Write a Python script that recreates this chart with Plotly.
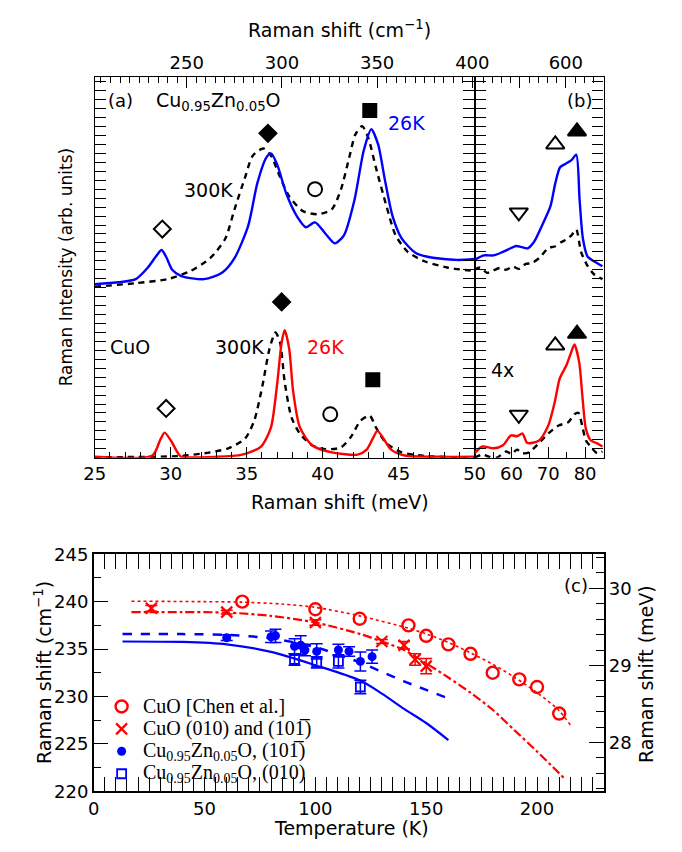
import plotly.graph_objects as go

# ---------------- Panel (a): Raman spectra, 25-50 meV ----------------
zn26_a_x = [25, 26.6, 27.7, 28.5, 29.1, 29.4, 29.7, 30.1, 30.7, 32.2, 33.4, 34.2, 35.1, 35.7, 36.3, 36.6, 37.0,
            37.6, 38.3, 38.9, 39.5, 40.2, 40.8, 41.4, 42.1, 42.7, 43.2, 43.65, 44.1, 44.6, 45.2, 46.1, 46.9, 48.8, 50.0]
zn26_a_y = [3.88, 3.92, 3.99, 4.25, 4.53, 4.64, 4.49, 4.20, 4.06, 3.99, 4.14, 4.46, 5.18, 6.13, 6.71, 6.80, 6.56,
            5.91, 5.40, 5.15, 5.26, 5.00, 4.79, 4.97, 5.77, 6.86, 7.34, 7.00, 6.20, 5.40, 4.90, 4.58, 4.49, 4.42, 4.44]
zn300_a_x = [25, 27.7, 29.8, 31.3, 32.6, 33.6, 34.2, 34.9, 35.4, 36.1, 36.6, 37.2, 37.8, 38.7, 39.7, 40.6, 41.2,
             41.75, 42.15, 42.6, 43.0, 43.5, 44.2, 44.8, 45.6, 46.7, 48.2, 50.0]
zn300_a_y = [3.82, 3.90, 3.99, 4.17, 4.46, 4.90, 5.55, 6.27, 6.75, 6.91, 6.75, 6.27, 5.84, 5.51, 5.44, 5.55, 5.99,
             6.71, 7.22, 7.41, 7.15, 6.49, 5.62, 4.97, 4.60, 4.39, 4.25, 4.17]
cuo26_a_x = [25, 28.8, 29.3, 29.6, 30.0, 30.5, 30.7, 33.0, 34.7, 35.95, 36.6, 37.0, 37.3, 37.5, 37.8, 38.06, 38.5,
             39.3, 40.6, 42.3, 42.9, 43.3, 43.6, 44.0, 44.5, 45.4, 47.7, 50.0]
cuo26_a_y = [0.02, 0.05, 0.39, 0.56, 0.39, 0.09, 0.02, 0.02, 0.07, 0.25, 0.68, 1.63, 2.57, 2.85, 2.43, 1.48, 0.68,
             0.28, 0.12, 0.07, 0.18, 0.43, 0.60, 0.43, 0.18, 0.05, 0.02, 0.02]
cuo300_a_x = [25, 30.7, 32.6, 33.8, 34.9, 35.5, 36.05, 36.5, 36.9, 37.2, 37.5, 37.95, 38.5, 39.3, 40.2, 41.2,
              41.85, 42.5, 43.1, 43.5, 44.2, 45.2, 46.7, 50.0]
cuo300_a_y = [0.01, 0.04, 0.12, 0.21, 0.43, 0.83, 1.63, 2.43, 2.80, 2.57, 1.70, 0.90, 0.54, 0.28, 0.19, 0.23,
              0.46, 0.83, 0.94, 0.68, 0.32, 0.12, 0.04, 0.0]

# ---------------- Panel (b): Raman spectra, 50-85 meV ----------------
zn26_b_x = [50, 52.5, 55.1, 57.7, 61.3, 62.6, 64.4, 66.1, 68.3, 70.6, 71.9, 73.2, 74.5, 76.3, 77.6, 78.5, 79.4,
            80.7, 82.4, 84.7]
zn26_b_y = [4.42, 4.52, 4.52, 4.60, 4.73, 4.71, 4.68, 4.82, 5.19, 5.62, 6.13, 6.49, 6.56, 6.65, 6.77, 5.77, 4.90,
            4.49, 4.39, 4.28]
zn300_b_x = [50, 51.5, 53.4, 55.0, 56.9, 58.5, 60.4, 62.0, 63.9, 65.5, 67.5, 70.1, 71.8, 73.6, 75.0, 76.3, 77.6,
             78.9, 80.7, 82.4, 84.7]
zn300_b_y = [4.20, 4.25, 4.13, 4.18, 4.24, 4.20, 4.27, 4.22, 4.33, 4.35, 4.46, 4.69, 4.72, 4.82, 4.88, 4.97, 5.10,
             4.60, 4.28, 4.10, 3.99]
cuo26_b_x = [50, 52.1, 55.1, 57.7, 59.9, 61.5, 63.0, 64.3, 67.4, 70.0, 71.8, 73.1, 74.9, 76.2, 77.1, 78.4, 79.3,
             80.2, 81.5, 83.3, 84.7]
cuo26_b_y = [0.10, 0.25, 0.21, 0.28, 0.50, 0.48, 0.54, 0.33, 0.38, 0.72, 1.26, 1.77, 2.06, 2.35, 2.53, 2.13, 1.34,
             0.65, 0.39, 0.32, 0.25]
cuo300_b_x = [50, 52.1, 54.0, 56.0, 58.6, 60.0, 61.5, 63.0, 64.8, 67.4, 70.0, 72.8, 75.4, 77.1, 78.2, 79.3, 80.2,
              81.5, 83.3, 84.7]
cuo300_b_y = [0.00, 0.07, 0.02, 0.00, 0.14, 0.08, 0.18, 0.10, 0.12, 0.32, 0.54, 0.72, 0.79, 0.97, 1.00, 0.68, 0.39,
              0.25, 0.10, 0.14]

# ---------------- Panel (c): Raman shift vs temperature ----------------
chen_T = [67, 100, 120, 142, 150, 160, 170, 180, 192, 200, 210]
chen_v = [240.0, 239.2, 238.2, 237.5, 236.4, 235.5, 234.5, 232.5, 231.8, 231.0, 228.2]
cuo_T = [26, 60, 100, 130, 140, 145, 150]
cuo_v = [239.3, 238.9, 237.8, 235.8, 235.4, 233.9, 233.2]
cuo_err = [0.3, 0.2, 0.3, 0.2, 0.4, 0.6, 0.8]
zn101_T = [60, 80, 82, 90.6, 93.4, 95.3, 100.6, 110.4, 115.2, 120.3, 125.6]
zn101_v = [236.2, 236.3, 236.4, 235.3, 235.4, 234.9, 234.75, 234.9, 234.75, 233.7, 234.2]
zn101_err = [0.3, 0.6, 0.7, 0.8, 1.0, 0.6, 0.8, 0.6, 0.5, 1.0, 0.7]
zn010_T = [90.6, 100.6, 110.4, 120.3]
zn010_v = [233.9, 233.6, 233.7, 231.0]
zn010_err = [0.6, 0.6, 0.7, 0.7]

fit_chen_T = [17, 50, 67, 85, 100, 120, 142, 150, 160, 170, 180, 190, 200, 210, 215]
fit_chen_v = [240.05, 240.0, 239.95, 239.75, 239.4, 238.5, 237.2, 236.6, 235.7, 234.6, 233.4, 232.0, 230.4, 228.5, 227.0]
fit_cuo_T = [17, 40, 60, 80, 100, 120, 130, 140, 150, 160, 170, 180, 190, 200, 213]
fit_cuo_v = [238.9, 238.9, 238.85, 238.5, 237.8, 236.6, 235.8, 234.9, 233.5, 232.0, 230.4, 228.6, 226.4, 224.2, 221.2]
fit_zn101_T = [13, 40, 60, 81, 100, 120, 130, 140, 150, 160]
fit_zn101_v = [236.6, 236.58, 236.5, 236.1, 235.2, 233.6, 232.6, 231.6, 230.7, 229.8]
fit_zn010_T = [13, 40, 60, 80, 100, 120, 130, 140, 150, 160]
fit_zn010_v = [235.8, 235.75, 235.5, 234.7, 233.3, 231.7, 230.3, 228.7, 227.2, 225.4]

legend_names = ["CuO [Chen et al.]",
                "CuO (010) and (101\u0305)",
                "Cu<sub>0.95</sub>Zn<sub>0.05</sub>O, (101\u0305)",
                "Cu<sub>0.95</sub>Zn<sub>0.05</sub>O, (010)"]

W, H = 682, 852
def PX(p): return p / W
def PY(p): return 1 - p / H

FONT = "DejaVu Sans, Arial, Helvetica, sans-serif"
SERIF = "Liberation Serif, Times New Roman, serif"
BLUE = "#0000FF"
RED = "#FF0000"
BLACK = "#000000"

fig = go.Figure()

def spec(x, y, color, dash, xa, ya):
    fig.add_trace(go.Scatter(
        x=x, y=y, mode="lines", xaxis=xa, yaxis=ya, showlegend=False, hoverinfo="skip",
        line=dict(color=color, width=2.4, dash=dash, shape="spline", smoothing=0.7)))

DASH = "6px,5px"
spec(zn300_a_x, zn300_a_y, BLACK, DASH, "x", "y")
spec(zn26_a_x, zn26_a_y, BLUE, "solid", "x", "y")
spec(cuo300_a_x, cuo300_a_y, BLACK, DASH, "x", "y")
spec(cuo26_a_x, cuo26_a_y, RED, "solid", "x", "y")
spec(zn300_b_x, zn300_b_y, BLACK, DASH, "x3", "y2")
spec(zn26_b_x, zn26_b_y, BLUE, "solid", "x3", "y2")
spec(cuo300_b_x, cuo300_b_y, BLACK, DASH, "x3", "y2")
spec(cuo26_b_x, cuo26_b_y, RED, "solid", "x3", "y2")

# dummy traces so the top (cm^-1) axes are drawn
for xa_, ya_, xv, yv in [("x2", "y", 300, 0), ("x4", "y2", 600, 0)]:
    fig.add_trace(go.Scatter(x=[xv], y=[yv], xaxis=xa_, yaxis=ya_, mode="markers",
                             marker=dict(opacity=0), showlegend=False, hoverinfo="skip"))

# phonon symbols (a)
sym_a_x = [29.45, 36.4, 39.5, 43.1, 29.7, 37.3, 40.5, 43.3]
sym_a_y = [5.11, 7.25, 6.0, 7.76, 1.10, 3.48, 0.97, 1.74]
sym_a_s = ["diamond-open", "diamond", "circle-open", "square",
           "diamond-open", "diamond", "circle-open", "square"]
sym_a_sz = [13, 13, 14, 13, 13, 13, 14, 13]
fig.add_trace(go.Scatter(x=sym_a_x, y=sym_a_y, xaxis="x", yaxis="y", mode="markers", showlegend=False,
                         hoverinfo="skip",
                         marker=dict(symbol=sym_a_s, size=sym_a_sz, color=BLACK, opacity=1,
                                     line=dict(color=BLACK, width=2))))
# phonon symbols (b)
sym_b_x = [62.0, 71.9, 77.8, 62.0, 71.9, 77.8]
sym_b_y = [5.48, 7.0, 7.29, 0.96, 2.51, 2.77]
sym_b_s = ["triangle-down-open", "triangle-up-open", "triangle-up",
           "triangle-down-open", "triangle-up-open", "triangle-up"]
fig.add_trace(go.Scatter(x=sym_b_x, y=sym_b_y, xaxis="x3", yaxis="y2", mode="markers", showlegend=False,
                         hoverinfo="skip",
                         marker=dict(symbol=sym_b_s, size=16, color=BLACK, opacity=1,
                                     line=dict(color=BLACK, width=2))))

# ---------------- panel (c) traces ----------------
def fit(T, v, color, dash, width):
    fig.add_trace(go.Scatter(x=T, y=v, mode="lines", xaxis="x5", yaxis="y3", showlegend=False, hoverinfo="skip",
                             line=dict(color=color, width=width, dash=dash, shape="spline", smoothing=0.8)))

fit(fit_chen_T, fit_chen_v, RED, "dot", 1.6)
fit(fit_cuo_T, fit_cuo_v, RED, "dashdot", 2.2)
fit(fit_zn101_T, fit_zn101_v, BLUE, "dash", 2.5)
fit(fit_zn010_T, fit_zn010_v, BLUE, "solid", 2.2)

MK_CHEN = dict(symbol="circle-open", size=12, color=RED, line=dict(width=2.4, color=RED))
MK_CUO = dict(symbol="x-thin", size=11, color=RED, line=dict(width=2.2, color=RED))
MK_ZN101 = dict(symbol="circle", size=9, color=BLUE)
MK_ZN010 = dict(symbol="square-open", size=9, color=BLUE, line=dict(width=1.8, color=BLUE))

fig.add_trace(go.Scatter(x=chen_T, y=chen_v, mode="markers", xaxis="x5", yaxis="y3", name=legend_names[0],
                         showlegend=False, marker=MK_CHEN))
fig.add_trace(go.Scatter(x=cuo_T, y=cuo_v, mode="markers", xaxis="x5", yaxis="y3", name=legend_names[1],
                         showlegend=False,
                         error_y=dict(type="data", array=cuo_err, color=RED, thickness=1.5, width=6),
                         marker=MK_CUO))
fig.add_trace(go.Scatter(x=zn101_T, y=zn101_v, mode="markers", xaxis="x5", yaxis="y3", name=legend_names[2],
                         showlegend=False,
                         error_y=dict(type="data", array=zn101_err, color=BLUE, thickness=1.5, width=6),
                         marker=MK_ZN101))
fig.add_trace(go.Scatter(x=zn010_T, y=zn010_v, mode="markers", xaxis="x5", yaxis="y3", name=legend_names[3],
                         showlegend=False,
                         error_y=dict(type="data", array=zn010_err, color=BLUE, thickness=1.5, width=6),
                         marker=MK_ZN010))

# manual legend (tighter row spacing than plotly's legend): key symbols on an auxiliary pixel-space axis
leg_rows_px = [713, 736, 759, 782]
for row, mk in zip(leg_rows_px, [MK_CHEN, MK_CUO, MK_ZN101, MK_ZN010]):
    fig.add_trace(go.Scatter(x=[115], y=[row], xaxis="x6", yaxis="y5", mode="markers", showlegend=False,
                             hoverinfo="skip", marker=mk))

# ---------------- axes ----------------
TF = dict(family=FONT, size=18, color=BLACK)
common = dict(showline=True, linecolor=BLACK, linewidth=1.3, ticks="inside", tickcolor=BLACK, tickwidth=1.3,
              showgrid=False, zeroline=False, tickfont=TF)

xa = (PX(87), PX(482))
xb = (PX(482), PX(616))
ytop = (PY(458), PY(68))

yspec = dict(common, range=[0, 8.5], tickmode="linear", tick0=0, dtick=1, ticklen=11, showticklabels=False,
             mirror="allticks",
             minor=dict(ticks="inside", tickmode="linear", tick0=0, dtick=0.2, ticklen=6, tickcolor=BLACK,
                        tickwidth=1.2))

fig.update_layout(
    width=W, height=H, margin=dict(l=0, r=0, t=0, b=0),
    paper_bgcolor="white", plot_bgcolor="rgba(0,0,0,0)",
    font=dict(family=FONT, size=18, color=BLACK),
    showlegend=False,
    xaxis=dict(common, domain=xa, anchor="y", range=[25, 50], tickmode="array", tickvals=[25, 30, 35, 40, 45],
               ticklen=11, mirror=False,
               minor=dict(ticks="inside", tickmode="linear", tick0=25, dtick=1, ticklen=6, tickcolor=BLACK,
                          tickwidth=1.2)),
    xaxis2=dict(common, domain=xa, anchor="y", overlaying="x", side="top", range=[201.7, 401.2],
                tickmode="array", tickvals=[250, 300, 350, 400], ticklen=11,
                minor=dict(ticks="inside", tickmode="linear", tick0=200, dtick=5, ticklen=6, tickcolor=BLACK,
                           tickwidth=1.2)),
    yaxis=dict(yspec, domain=ytop, anchor="x"),
    xaxis3=dict(common, domain=xb, anchor="y2", range=[50, 85], tickmode="array", tickvals=[50, 60, 70, 80],
                ticklen=11, mirror=False,
                minor=dict(ticks="inside", tickmode="linear", tick0=50, dtick=5, ticklen=6, tickcolor=BLACK,
                           tickwidth=1.2)),
    xaxis4=dict(common, domain=xb, anchor="y2", overlaying="x3", side="top", range=[401.5, 682],
                tickmode="array", tickvals=[500, 600], ticktext=["", "600"], ticklen=11,
                minor=dict(ticks="inside", tickmode="linear", tick0=400, dtick=20, ticklen=6, tickcolor=BLACK,
                           tickwidth=1.2)),
    yaxis2=dict(yspec, domain=ytop, anchor="x3"),
    xaxis5=dict(common, domain=(PX(86), PX(616)), anchor="y3", range=[0, 230], tickmode="array",
                tickvals=[0, 50, 100, 150, 200], ticklen=15, mirror="allticks", linewidth=1.5,
                minor=dict(ticks="inside", tickmode="linear", tick0=0, dtick=5, ticklen=8, tickcolor=BLACK,
                           tickwidth=1.2)),
    yaxis3=dict(common, domain=(PY(800), PY(557)), anchor="x5", range=[220, 245], tickmode="linear",
                tick0=220, dtick=5, ticklen=15, linewidth=1.5,
                minor=dict(ticks="inside", tickmode="linear", tick0=220, dtick=2.5, ticklen=8, tickcolor=BLACK,
                           tickwidth=1.2)),
    yaxis4=dict(common, domain=(PY(800), PY(557)), anchor="x5", overlaying="y3", side="right",
                range=[27.367, 30.443], tickmode="array", tickvals=[28, 29, 30], ticklen=15, linewidth=1.5,
                minor=dict(ticks="inside", tickmode="linear", tick0=28, dtick=0.2, ticklen=8, tickcolor=BLACK,
                           tickwidth=1.2)),
    # auxiliary pixel-space axes for the legend key (invisible)
    xaxis6=dict(domain=(0, 1), range=[0, W], anchor="y5", visible=False, fixedrange=True),
    yaxis5=dict(domain=(0, 1), range=[H, 0], anchor="x6", visible=False, fixedrange=True),
)

fig.add_trace(go.Scatter(x=[100], y=[29], xaxis="x5", yaxis="y4", mode="markers",
                         marker=dict(opacity=0), showlegend=False, hoverinfo="skip"))

ann = []
def txt(x, y, s, xref, yref, color=BLACK, xanchor="center", size=19, angle=0, family=FONT):
    ann.append(dict(x=x, y=y, text=s, xref=xref, yref=yref, showarrow=False, xanchor=xanchor, yanchor="middle",
                    textangle=angle, font=dict(family=family, size=size, color=color)))

# panel (a)/(b) labels
txt(26.67, 7.98, "(a)", "x", "y", size=18)
txt(28.9, 7.95, "Cu<sub>0.95</sub>Zn<sub>0.05</sub>O", "x", "y", xanchor="left", size=19)
txt(45.55, 7.47, "26K", "x", "y", color=BLUE)
txt(32.5, 5.98, "300K", "x", "y")
txt(27.3, 2.48, "CuO", "x", "y")
txt(34.5, 2.48, "300K", "x", "y")
txt(40.2, 2.48, "26K", "x", "y", color=RED)
txt(78.6, 7.98, "(b)", "x3", "y2", size=18)
txt(57.6, 1.95, "4x", "x3", "y2")
txt(217.5, 241.7, "(c)", "x5", "y3", size=18)

# legend texts
for row, name in zip(leg_rows_px, legend_names):
    txt(PX(135), PY(row), name, "paper", "paper", xanchor="left", size=20, family=SERIF)

# axis titles
txt(PX(341), PY(18), "Raman shift (cm<sup>\u22121</sup>)", "paper", "paper")
txt(PX(342), PY(503), "Raman shift (meV)", "paper", "paper")
txt(PX(57), PY(263), "Raman Intensity (arb. units)", "paper", "paper", angle=-90, size=17)
txt(PX(34), PY(678), "Raman shift (cm<sup>\u22121</sup>)", "paper", "paper", angle=-90)
txt(PX(660), PY(680), "Raman shift (meV)", "paper", "paper", angle=-90)
txt(PX(354), PY(838), "Temperature (K)", "paper", "paper")

fig.update_layout(annotations=ann)
fig.write_html("out.html")
